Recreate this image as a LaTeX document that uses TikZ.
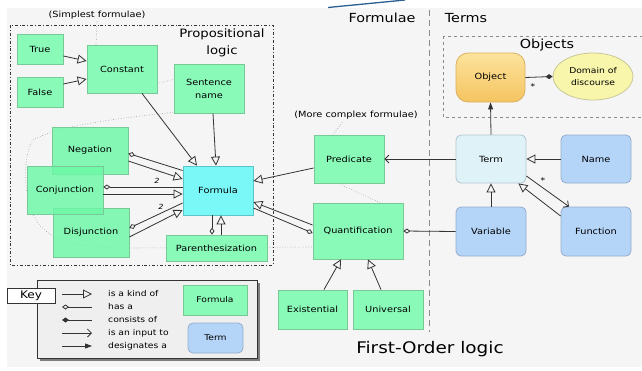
\documentclass[tikz,border=0pt]{standalone}
\usepackage{fontspec}
\setmainfont[FakeStretch=1.15]{DejaVu Sans}
\usetikzlibrary{arrows.meta,shapes.geometric,shadows,calc}
\definecolor{bggrey}{HTML}{F5F5F5}
\definecolor{fgreen}{HTML}{8AFAB9}
\definecolor{fgreent}{HTML}{6CF8A6}
\definecolor{fgreenb}{HTML}{79C898}
\definecolor{fcyan}{HTML}{7AF7F7}
\definecolor{fcyanb}{HTML}{5CC6C6}
\definecolor{tlight}{HTML}{DFF2F8}
\definecolor{tlightb}{HTML}{AFC6D0}
\definecolor{tblue}{HTML}{B4D4F8}
\definecolor{tblueb}{HTML}{93AECC}
\definecolor{objtop}{HTML}{FCE39C}
\definecolor{objbot}{HTML}{F5C460}
\definecolor{objb}{HTML}{D9B060}
\definecolor{domfill}{HTML}{F8F6AA}
\definecolor{domb}{HTML}{C9C79A}
\definecolor{linec}{HTML}{333333}
\definecolor{dotc}{HTML}{9A9A9A}
\definecolor{sepc}{HTML}{8A8A8A}
\definecolor{topblue}{HTML}{2A5F8F}
\definecolor{keyfill}{HTML}{EFEFEF}
\newcommand\myfn{\fontsize{8.5}{13}\selectfont}
\newcommand\myfk{\fontsize{8}{10}\selectfont}
\newcommand\myft{\fontsize{12.5}{17}\selectfont}
\tikzset{
  gnode/.style={draw=fgreenb, fill=fgreen, line width=0.8pt, font=\myfn, align=center, inner sep=1pt},
  gnodet/.style={gnode, fill=fgreent, fill opacity=0.82, text opacity=1},
  cnode/.style={draw=fcyanb, fill=fcyan, line width=0.8pt, font=\myfn, align=center, inner sep=1pt},
  tlnode/.style={draw=tlightb, fill=tlight, line width=0.8pt, rounded corners=5pt, font=\myfn, align=center, inner sep=1pt},
  tbnode/.style={draw=tblueb, fill=tblue, line width=0.8pt, rounded corners=5pt, font=\myfn, align=center, inner sep=1pt},
  conn/.style={draw=linec, line width=0.8pt},
  kindof/.style={conn, -{Triangle[open,length=9pt,width=9pt]}},
  hasa/.style={conn, -{Diamond[open,length=7pt,width=5pt]}},
  consists/.style={conn, -{Diamond[length=7pt,width=5pt]}},
  input/.style={conn, -{Straight Barb[length=4pt,width=8pt]}},
  designates/.style={conn, -{Triangle[length=7pt,width=5pt]}},
  dotline/.style={draw=dotc, line width=0.6pt, dotted},
  titletext/.style={font=\myft, inner sep=0pt},
  notetext/.style={font=\fontsize{8.5}{10}\selectfont, inner sep=0pt},
  keytext/.style={font=\myfk, inner sep=0pt, anchor=west},
  mult/.style={font=\fontsize{7}{8}\selectfont\itshape, inner sep=0pt}
}
\begin{document}
\begin{tikzpicture}[x=1pt,y=-1pt]
\useasboundingbox (0,0) rectangle (642,370);
\clip (0,0) rectangle (642,370);
\fill[white] (0,0) rectangle (642,370);
\fill[bggrey] (7,8) rectangle (642,367);
\draw[topblue, line width=1.3pt] (328,7.5) -- (405,0);

% region frames
\draw[linec, line width=0.8pt, dash dot] (10,25) rectangle (273,265);
\draw[sepc, line width=0.8pt, dashed] (443,36) rectangle (660,117);
\draw[sepc, line width=1.3pt, dash pattern=on 6pt off 4pt] (429.5,10) -- (429.5,332);

% titles
\node[titletext] (tformulae) at (382,18) {Formulae};
\node[titletext] (tterms) at (466,18) {Terms};
\node[titletext, align=center, font=\fontsize{11.5}{17}\selectfont] (tprop) at (222,43) {Propositional\\logic};
\node[titletext] (tobjects) at (547,45) {Objects};
\node[titletext, font=\fontsize{16}{18}\selectfont] (tfol) at (430,349) {First-Order logic};
\node[notetext] (tsimple) at (97,15) {(Simplest formulae)};
\node[notetext] (tcomplex) at (356,115) {(More complex formulae)};

% dotted grouping
\draw[dotline] (97,21) -- (96,45) .. controls (93,72) and (96,86) .. (118,88)
  .. controls (145,89) and (170,80) .. (200,72)
  .. controls (225,66) and (242,72) .. (240,88)
  .. controls (238,104) and (215,110) .. (177,112)
  .. controls (120,118) and (60,125) .. (33,140)
  .. controls (20,160) and (24,215) .. (45,230)
  .. controls (60,245) and (90,248) .. (130,248)
  -- (313,247)
  .. controls (360,247) and (400,240) .. (397,218)
  .. controls (394,205) and (360,195) .. (342,185)
  .. controls (322,175) and (318,150) .. (333,135)
  -- (343,121);

% propositional nodes
\node[gnode, minimum width=46, minimum height=30] (true) at (40,49) {True};
\node[gnode, minimum width=46, minimum height=30] (false) at (40,92) {False};
\node[gnode, minimum width=70, minimum height=48] (constant) at (122,69) {Constant};
\node[gnode, minimum width=70, minimum height=49] (sentence) at (209,88.5) {Sentence\\name};
\node[gnodet, minimum width=76, minimum height=47] (negation) at (90,150.5) {Negation};
\node[gnodet, minimum width=76, minimum height=49] (disjunction) at (91,232.5) {Disjunction};
\node[gnodet, minimum width=76, minimum height=48] (conjunction) at (65,190) {Conjunction};
\node[cnode, minimum width=70, minimum height=49] (formula) at (218,190.5) {Formula};
\node[gnode, minimum width=101, minimum height=26] (paren) at (216.5,248) {Parenthesization};
\node[gnode, minimum width=70, minimum height=48] (predicate) at (349,159) {Predicate};
\node[gnode, minimum width=90, minimum height=56] (quant) at (358,231) {Quantification};
\node[gnode, minimum width=69, minimum height=39] (exist) at (312.5,309.5) {Existential};
\node[gnode, minimum width=70, minimum height=39] (univ) at (388,309.5) {Universal};

% term nodes
\node[tlnode, minimum width=70, minimum height=48] (term) at (491,159) {Term};
\node[tbnode, minimum width=70, minimum height=48] (name) at (596,159) {Name};
\node[tbnode, minimum width=70, minimum height=49] (variable) at (491,231.5) {Variable};
\node[tbnode, minimum width=70, minimum height=49] (function) at (596,231.5) {Function};
\node[draw=objb, line width=0.8pt, top color=objtop, bottom color=objbot, rounded corners=12pt, minimum width=69, minimum height=49, font=\myfn] (object) at (490.5,77.5) {Object};
\node[ellipse, draw=domb, fill=domfill, line width=0.8pt, minimum width=80, minimum height=47, inner sep=0pt, align=center, font=\fontsize{8}{12}\selectfont] (domain) at (593,76.5) {Domain of\\discourse};

% connectors: propositional
\draw[kindof] ([yshift=-7pt]true.east) -- ([yshift=8pt]constant.west);
\draw[kindof] ([yshift=8pt]false.east) -- ([yshift=-10pt]constant.west);
\draw[kindof] ([xshift=20pt]constant.south) -- ([xshift=-21pt]formula.north);
\draw[kindof] ([xshift=4pt]sentence.south) -- ([xshift=-2pt]formula.north);
\draw[hasa] ([yshift=20pt]formula.west) -- ([yshift=-3pt]negation.east);
\draw[kindof] ([yshift=-10.5pt]negation.east) -- ([yshift=11.5pt]formula.west);
\draw[hasa] ([yshift=3.5pt]formula.west) -- ([yshift=3pt]conjunction.east);
\draw[kindof] ([yshift=-4pt]conjunction.east) -- ([yshift=-3.5pt]formula.west);
\draw[hasa] ([yshift=-12.5pt]formula.west) -- ([yshift=4.5pt]disjunction.east);
\draw[kindof] ([yshift=-4.5pt]disjunction.east) -- ([yshift=-19.5pt]formula.west);
\node[mult] (two1) at (157,181) {2};
\node[mult] (two2) at (161,207) {2};
\draw[hasa] ([xshift=-6pt]formula.south) -- ([xshift=-4.5pt]paren.north);
\draw[kindof] ([xshift=4.5pt]paren.north) -- ([xshift=3pt]formula.south);
\draw[kindof] ([yshift=-9pt]predicate.west) -- ([yshift=9.5pt]formula.east);
\draw[kindof] ([yshift=6pt]quant.west) -- ([yshift=-11.5pt]formula.east);
\draw[hasa] ([yshift=-17.5pt]formula.east) -- ([yshift=-2pt]quant.west);
\draw[kindof] ([xshift=11.5pt]exist.north) -- ([xshift=-17pt]quant.south);
\draw[kindof] ([xshift=-7pt]univ.north) -- ([xshift=10pt]quant.south);

% connectors: terms
\draw[hasa] (variable.west) -- (quant.east);
\draw[input] (term.west) -- (predicate.east);
\draw[kindof] (name.west) -- (term.east);
\draw[kindof] (variable.north) -- (term.south);
\draw[kindof] ([yshift=15.5pt]function.west) -- ([xshift=-8pt]term.south east);
\draw[input] ([yshift=-17pt]term.east) -- ([xshift=-27pt]function.north);
\node[mult, font=\fontsize{8}{8}\selectfont] (star1) at (543,181) {*};
\draw[designates] (term.north) -- (object.south);
\draw[consists] (object.east) -- (domain.west);
\node[mult, font=\fontsize{8}{8}\selectfont] (star2) at (533,87) {*};

% key
\node[draw=linec, fill=keyfill, line width=1pt, anchor=north west, minimum width=220, minimum height=78, inner sep=0pt,
      drop shadow={shadow xshift=2.5pt, shadow yshift=-2.5pt, fill=black!70, opacity=0.7}] (keyp) at (37,280) {};
\node[draw=linec, fill=white, line width=1pt, minimum width=48, minimum height=15, inner sep=0pt, font=\fontsize{10.5}{10.5}\selectfont] (keyl) at (31,295.5) {Key};
\coordinate (k1a) at (62,294);  \coordinate (k1b) at (92,294);
\coordinate (k2a) at (62,307);  \coordinate (k2b) at (92,307);
\coordinate (k3a) at (62,320);  \coordinate (k3b) at (92,320);
\coordinate (k4a) at (62,333);  \coordinate (k4b) at (92,333);
\coordinate (k5a) at (62,346);  \coordinate (k5b) at (92,346);
\draw[kindof] (k1a) -- (k1b);
\draw[hasa] (k2b) -- (k2a);
\draw[consists] (k3b) -- (k3a);
\draw[input] (k4a) -- (k4b);
\draw[designates] (k5a) -- (k5b);
\node[keytext] (kt1) at (108,294) {is a kind of};
\node[keytext] (kt2) at (108,307) {has a};
\node[keytext] (kt3) at (108,320) {consists of};
\node[keytext] (kt4) at (108,333) {is an input to};
\node[keytext] (kt5) at (108,346) {designates a};
\node[gnode, minimum width=64, minimum height=30, font=\myfk] (keyformula) at (215,300) {Formula};
\node[tbnode, minimum width=55, minimum height=30, font=\myfk] (keyterm) at (215.5,338) {Term};
\end{tikzpicture}
\end{document}
